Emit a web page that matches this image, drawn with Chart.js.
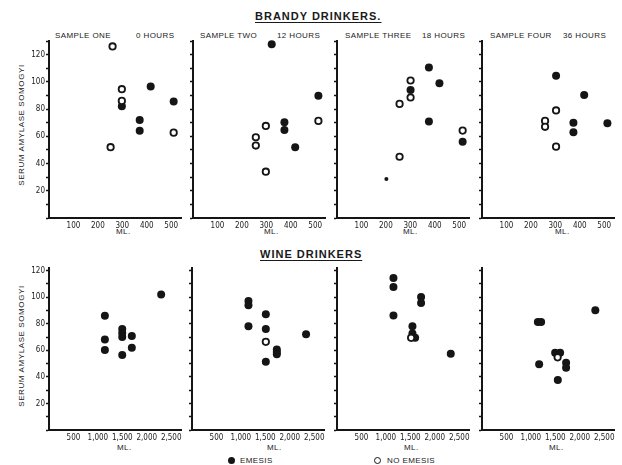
<!DOCTYPE html>
<html>
<head>
<meta charset="utf-8">
<script src="https://cdn.jsdelivr.net/npm/chart.js@4.4.0/dist/chart.umd.min.js"></script>
<style>
body { margin: 0; background: #fff; }
#fig { position: relative; width: 622px; height: 465px; overflow: hidden;
  font-family: 'Liberation Sans', Arial, sans-serif; color: #1a1a1a; }
#fig canvas { position: absolute; }
.t { position: absolute; white-space: nowrap; font-size: 8px; line-height: 8px; letter-spacing: .4px; }
.head { position: absolute; white-space: nowrap; font-size: 11px; line-height: 11px; font-weight: bold;
  letter-spacing: 1px; text-decoration: underline; text-underline-offset: 2px; }
.ytitle { position: absolute; width: 150px; text-align: center; white-space: nowrap;
  font-size: 8px; line-height: 8px; letter-spacing: .6px; transform: rotate(-90deg); }
.dot { position: absolute; width: 7px; height: 7px; border-radius: 50%; box-sizing: border-box; }
</style>
</head>
<body>
<div id="fig">
  <div class="head" style="left:255px;top:11px">BRANDY DRINKERS.</div>
  <div class="head" style="left:260px;top:249px">WINE DRINKERS</div>

  <div class="t" style="left:55px;top:32px">SAMPLE ONE</div>
  <div class="t" style="left:136px;top:32px">0 HOURS</div>
  <div class="t" style="left:200px;top:32px">SAMPLE TWO</div>
  <div class="t" style="left:277px;top:32px">12 HOURS</div>
  <div class="t" style="left:345px;top:32px">SAMPLE THREE</div>
  <div class="t" style="left:422px;top:32px">18 HOURS</div>
  <div class="t" style="left:490px;top:32px">SAMPLE FOUR</div>
  <div class="t" style="left:563px;top:32px">36 HOURS</div>

  <div class="ytitle" style="left:-53px;top:121px">SERUM AMYLASE SOMOGYI</div>
  <div class="ytitle" style="left:-53px;top:342px">SERUM AMYLASE SOMOGYI</div>

  <div class="t" style="left:116px;top:228px">ML.</div>
  <div class="t" style="left:264px;top:228px">ML.</div>
  <div class="t" style="left:403px;top:228px">ML.</div>
  <div class="t" style="left:555px;top:228px">ML.</div>
  <div class="t" style="left:117px;top:444px">ML.</div>
  <div class="t" style="left:267px;top:444px">ML.</div>
  <div class="t" style="left:404px;top:444px">ML.</div>
  <div class="t" style="left:549px;top:444px">ML.</div>

  <div class="dot" style="left:228px;top:457px;background:#151515"></div>
  <div class="t" style="left:240px;top:457px">EMESIS</div>
  <div class="dot" style="left:374px;top:457px;border:1.8px solid #151515"></div>
  <div class="t" style="left:387px;top:457px">NO EMESIS</div>
</div>

<script>
// serum amylase vs ml drunk

// brandy, x = ml, y = somogyi units
const brandyEmesis1 = [{x:298,y:82},{x:416,y:96.5},{x:371,y:72},{x:371,y:64},{x:510,y:85.5}];
const brandyNoEmesis1 = [{x:260,y:126},{x:252,y:52},{x:298,y:94.6},{x:298,y:86},{x:510,y:62.7}];
const brandyEmesis2 = [{x:322,y:127.7},{x:374,y:70.4},{x:374,y:64.7},{x:418,y:52},{x:513,y:89.7}];
const brandyNoEmesis2 = [{x:298,y:67.6},{x:257,y:59.3},{x:257,y:53.2},{x:298,y:34},{x:513,y:71.3}];
const brandyEmesis3 = [{x:301,y:94},{x:376,y:110.5},{x:419,y:99},{x:376,y:70.8},{x:514,y:56}];
const brandyNoEmesis3 = [{x:256,y:45},{x:256,y:83.8},{x:301,y:101},{x:301,y:88.5},{x:514,y:64.2}];
const brandySmall3 = [{x:202,y:28.7}];
const brandyEmesis4 = [{x:303,y:104.4},{x:374,y:70},{x:374,y:63},{x:418,y:90.4},{x:513,y:69.6}];
const brandyNoEmesis4 = [{x:303,y:79},{x:258,y:71.3},{x:258,y:67},{x:303,y:52.4}];

// wine
const wineEmesis1 = [{x:1143,y:86},{x:1143,y:68.2},{x:1143,y:60.2},{x:1498,y:76},{x:1498,y:73},
  {x:1498,y:70},{x:1498,y:56.4},{x:1694,y:70.7},{x:1694,y:61.9},{x:2294,y:102}];
const wineNoEmesis1 = [];
const wineEmesis2 = [{x:1155,y:97.2},{x:1155,y:94},{x:1155,y:78.2},{x:1510,y:87.2},{x:1510,y:76},
  {x:1510,y:51.4},{x:1735,y:60.7},{x:1735,y:58.8},{x:1735,y:57.1},{x:2333,y:72.2}];
const wineNoEmesis2 = [{x:1510,y:66.4}];
const wineEmesis3 = [{x:1155,y:114.5},{x:1155,y:107.7},{x:1155,y:86.2},{x:1720,y:100.2},{x:1720,y:95.7},
  {x:1543,y:78.2},{x:1543,y:72.7},{x:1598,y:69.4},{x:2327,y:57.4}];
const wineNoEmesis3 = [{x:1516,y:69.4}];
const wineEmesis4 = [{x:1143,y:81.4},{x:1210,y:81.4},{x:1496,y:58.1},{x:1598,y:58.1},{x:1169,y:49.6},
  {x:1720,y:50.6},{x:1720,y:46.8},{x:1551,y:37.6},{x:2318,y:90.2}];
const wineNoEmesis4 = [{x:1547,y:54.7}];

const brandyTicks = [100, 200, 300, 400, 500];
const wineTicks = [500, 1000, 1500, 2000, 2500];
const yLabels = [20, 40, 60, 80, 100, 120];

const ink = '#151515';
const tickFont = { family: "'Liberation Sans Narrow', 'DejaVu Sans Condensed', 'Liberation Sans', sans-serif", size: 8 };

// one row per drink; chartTop / chartH put the zero line where the scan has it
const rows = [
  { chartTop: 41, chartH: 177, ymax: 130, xmax: 540, ticks: brandyTicks },
  { chartTop: 268, chartH: 162, ymax: 122, xmax: 2700, ticks: wineTicks }
];

const panels = [
  { row: 0, left: 49, em: brandyEmesis1, no: brandyNoEmesis1 },
  { row: 0, left: 193, em: brandyEmesis2, no: brandyNoEmesis2 },
  { row: 0, left: 337, em: brandyEmesis3, no: brandyNoEmesis3, small: brandySmall3 },
  { row: 0, left: 482, em: brandyEmesis4, no: brandyNoEmesis4 },
  { row: 1, left: 49, em: wineEmesis1, no: wineNoEmesis1 },
  { row: 1, left: 192, em: wineEmesis2, no: wineNoEmesis2 },
  { row: 1, left: 337, em: wineEmesis3, no: wineNoEmesis3 },
  { row: 1, left: 482, em: wineEmesis4, no: wineNoEmesis4 }
];

const YW = 30, XH = 16, PADT = 6, PADR = 8, PLOTW = 132;
const fig = document.getElementById('fig');

panels.forEach(function (p, i) {
  const r = rows[p.row];
  const firstCol = (i % 4) === 0;
  const cv = document.createElement('canvas');
  const w = YW + PLOTW + PADR, h = PADT + r.chartH + XH;
  cv.width = w; cv.height = h;
  cv.style.width = w + 'px'; cv.style.height = h + 'px';
  cv.style.left = (p.left - YW) + 'px';
  cv.style.top = (r.chartTop - PADT) + 'px';
  fig.appendChild(cv);

  const datasets = [
    { data: p.no, pointRadius: 3.2, borderWidth: 1.8, borderColor: ink, backgroundColor: '#fff' },
    { data: p.em, pointRadius: 4, borderWidth: 0, backgroundColor: ink }
  ];
  if (p.small) datasets.push({ data: p.small, pointRadius: 2, borderWidth: 0, backgroundColor: ink });

  new Chart(cv.getContext('2d'), {
    type: 'scatter',
    data: { datasets: datasets },
    options: {
      responsive: false,
      animation: false,
      devicePixelRatio: 1,
      events: [],
      clip: false,
      layout: { padding: { top: PADT, right: PADR, left: 0, bottom: 0 } },
      plugins: { legend: { display: false }, tooltip: { enabled: false } },
      scales: {
        x: {
          type: 'linear', min: 0, max: r.xmax,
          ticks: {
            autoSkip: false, maxRotation: 0,
            padding: 3, color: '#222', font: tickFont,
            callback: function (v) { return v.toLocaleString('en-US'); }
          },
          // stepSize 500 gets rounded away by chart.js, so set the ticks directly
          afterBuildTicks: function (s) { s.ticks = r.ticks.map(function (v) { return { value: v }; }); },
          grid: { display: true, drawOnChartArea: false, drawTicks: false },
          border: { display: true, color: ink, width: 2 },
          afterFit: function (s) { s.height = XH; }
        },
        y: {
          min: 0, max: r.ymax,
          ticks: {
            stepSize: 10, includeBounds: false, autoSkip: false,
            padding: 1, color: '#222', font: tickFont,
            callback: function (v) { return firstCol && yLabels.includes(v) ? String(v) : ''; }
          },
          grid: { display: true, drawOnChartArea: false, drawTicks: true, tickLength: 3, tickWidth: 1.3, color: ink },
          border: { display: true, color: ink, width: 2 },
          afterFit: function (s) { s.width = YW; }
        }
      }
    }
  });
});
</script>
</body>
</html>
